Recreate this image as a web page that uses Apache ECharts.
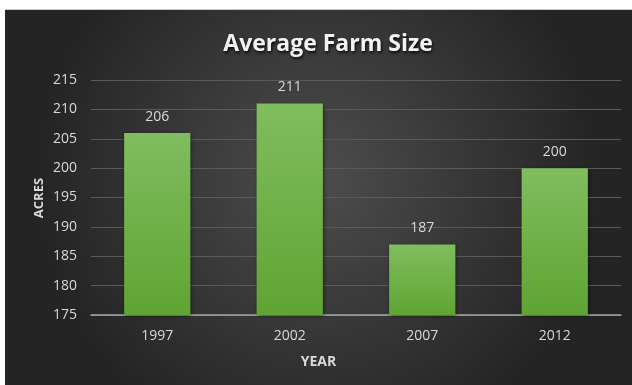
<!DOCTYPE html>
<html>
<head>
<meta charset="utf-8">
<script src="https://cdn.jsdelivr.net/npm/echarts@6/dist/echarts.min.js"></script>
<style>
html,body{margin:0;padding:0;background:#fff;width:632px;height:385px;overflow:hidden;}
#c{position:absolute;left:5px;top:9px;width:627px;height:376px;border-top:1px solid #c8c8c8;box-sizing:border-box;}
</style>
</head>
<body>
<div id="c"></div>
<script>
const categories = ['1997', '2002', '2007', '2012'];
const acres = [206, 211, 187, 200];
const yMin = 175, yMax = 215, yStep = 5;

const chart = echarts.init(document.getElementById('c'));
const font = '"Open Sans", "Liberation Sans", sans-serif';
chart.setOption({
  backgroundColor: {
    type: 'radial', x: 0.5, y: 0.45, r: 0.75,
    colorStops: [{offset: 0, color: '#4d4d4d'}, {offset: 1, color: '#242424'}]
  },
  title: {
    text: 'Average Farm Size',
    left: 318, top: 18, textAlign: 'center',
    textStyle: {
      color: '#f2f2f2', fontSize: 23, fontWeight: 'bold', fontFamily: font,
      textShadowColor: 'rgba(0,0,0,0.8)', textShadowBlur: 3, textShadowOffsetX: 1, textShadowOffsetY: 2
    }
  },
  grid: {left: 86, right: 11, top: 70, bottom: 70},
  xAxis: {
    type: 'category', data: categories,
    axisLine: {lineStyle: {color: '#a6a6a6', width: 1.5}},
    axisTick: {show: false},
    axisLabel: {color: '#d9d9d9', fontSize: 14, fontFamily: font, margin: 14}
  },
  yAxis: {
    type: 'value', min: yMin, max: yMax, interval: yStep,
    axisLine: {show: false}, axisTick: {show: false},
    axisLabel: {color: '#d9d9d9', fontSize: 14, fontFamily: font, margin: 14},
    splitLine: {lineStyle: {color: '#5a5a5a', width: 1}}
  },
  graphic: [
    {type: 'text', left: 'center', top: 345, style: {text: 'YEAR', fill: '#d9d9d9', font: 'bold 14px ' + font}, x: -3},
    {type: 'text', x: 34, y: 188, rotation: Math.PI / 2, style: {text: 'ACRES', fill: '#d9d9d9', font: 'bold 13px ' + font, align: 'center', verticalAlign: 'middle'}}
  ],
  series: [{
    type: 'bar', data: acres, barWidth: '50%',
    itemStyle: {
      color: {type: 'linear', x: 0, y: 0, x2: 0, y2: 1,
        colorStops: [{offset: 0, color: '#80bd5e'}, {offset: 1, color: '#5fa433'}]},
      shadowColor: 'rgba(0,0,0,0.5)', shadowBlur: 4, shadowOffsetX: 1, shadowOffsetY: 1
    },
    label: {show: true, position: 'top', distance: 9, color: '#d9d9d9', fontSize: 14, fontFamily: font}
  }]
});
</script>
</body>
</html>
